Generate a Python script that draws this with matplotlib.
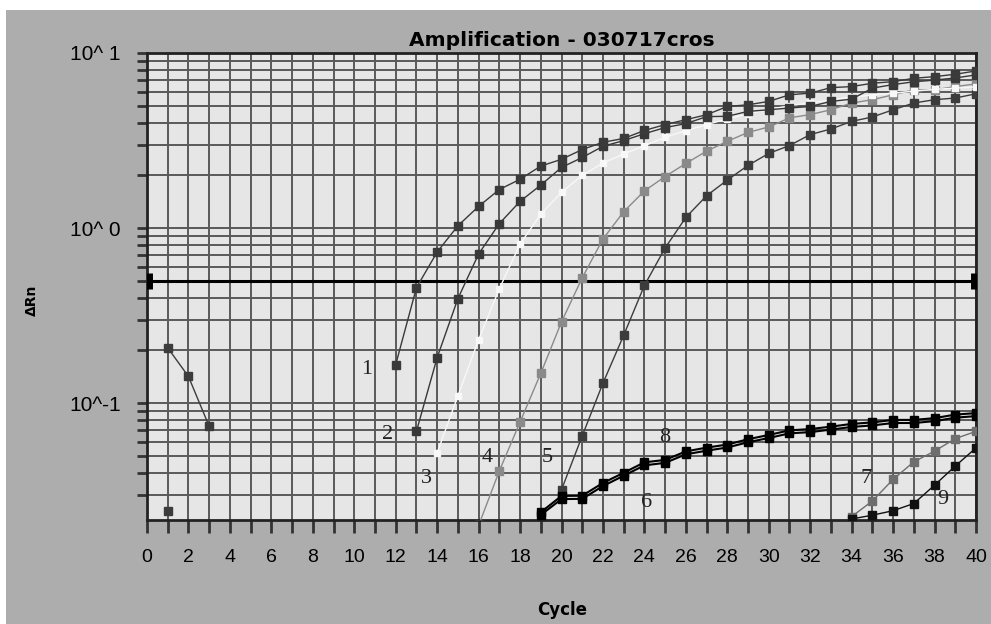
import numpy as np
import matplotlib.pyplot as plt
from matplotlib.patches import Rectangle
from matplotlib.ticker import FixedLocator, NullFormatter

# amplification curves (cycle, delta Rn)
cyc1 = list(range(12, 41))
rn1 = [0.166, 0.456, 0.73, 1.03, 1.33, 1.66, 1.90, 2.26, 2.47, 2.81, 3.09, 3.25, 3.61, 3.90,
       4.16, 4.44, 4.95, 5.06, 5.29, 5.77, 5.90, 6.34, 6.43, 6.72, 6.86, 7.17, 7.33, 7.56, 7.9]

cyc2 = list(range(13, 41))
rn2 = [0.069, 0.182, 0.395, 0.711, 1.06, 1.42, 1.76, 2.22, 2.53, 2.93, 3.16, 3.46, 3.75, 3.95,
       4.33, 4.35, 4.64, 4.74, 4.85, 4.95, 5.29, 5.45, 6.3, 6.6, 6.85, 7.0, 7.2, 7.5]

cyc3 = list(range(14, 41))
rn3 = [0.052, 0.11, 0.23, 0.45, 0.81, 1.2, 1.6, 2.0, 2.35, 2.65, 2.95, 3.3, 3.6, 3.9,
       4.2, 4.5, 4.75, 5.0, 5.2, 5.4, 5.6, 5.75, 5.9, 6.05, 6.2, 6.3, 6.4]

cyc4 = list(range(16, 41))
rn4 = [0.020, 0.041, 0.078, 0.148, 0.291, 0.52, 0.866, 1.24, 1.63, 1.97, 2.34, 2.75, 3.13,
       3.52, 3.78, 4.26, 4.45, 4.74, 5.18, 5.41, 5.77, 6.16, 6.16, 6.43, 6.66]

cyc5 = list(range(20, 41))
rn5 = [0.032, 0.065, 0.13, 0.244, 0.47, 0.77, 1.15, 1.53, 1.88, 2.28, 2.67, 2.96, 3.42, 3.68,
       4.07, 4.31, 4.74, 5.18, 5.41, 5.53, 5.85]

cyc6 = list(range(19, 41))
rn6 = [0.0230, 0.0283, 0.0284, 0.0336, 0.0385, 0.0441, 0.0456, 0.0510, 0.0535, 0.0558, 0.0598,
       0.0632, 0.0672, 0.0683, 0.0706, 0.0731, 0.0746, 0.0770, 0.0770, 0.0789, 0.0826, 0.0843]
cyc8 = list(range(19, 41))
rn8 = [0.0238, 0.0295, 0.0296, 0.0350, 0.0400, 0.0459, 0.0474, 0.0530, 0.0557, 0.0580, 0.0622,
       0.0658, 0.0699, 0.0711, 0.0734, 0.0761, 0.0776, 0.0802, 0.0802, 0.0821, 0.0860, 0.0877]

cyc7 = list(range(34, 41))
rn7 = [0.0225, 0.0276, 0.0367, 0.0462, 0.0532, 0.0627, 0.069]

cyc9 = list(range(34, 41))
rn9 = [0.0218, 0.0229, 0.0243, 0.0267, 0.034, 0.0437, 0.0555]

cyc0 = [1, 2, 3]
rn0 = [0.207, 0.142, 0.0737]
cyc_pt = [1]
rn_pt = [0.0243]

threshold = 0.5

# curve labels: text, cycle, delta Rn
lab_txt = ['1', '2', '3', '4', '5', '6', '7', '8', '9']
lab_x = [10.6, 11.6, 13.5, 16.4, 19.3, 24.1, 34.7, 25.0, 38.4]
lab_y = [0.155, 0.066, 0.037, 0.049, 0.049, 0.027, 0.037, 0.064, 0.028]

fig = plt.figure(figsize=(9.91, 6.24), dpi=100, facecolor='white')
fig.patches.append(Rectangle((6 / 991, 0), 1, (624 - 10) / 624, transform=fig.transFigure,
                             facecolor='#adadad', edgecolor='none', zorder=-10))
ax = fig.add_axes([147 / 991, (624 - 520) / 624, (976 - 147) / 991, (520 - 53) / 624])
ax.set_facecolor('#e6e6e6')
ax.set_yscale('log')
ax.set_xlim(0, 40)
ax.set_ylim(0.0215, 10)

# grid
ax.xaxis.set_major_locator(FixedLocator(range(0, 41, 2)))
ax.xaxis.set_minor_locator(FixedLocator(range(1, 40, 2)))
ax.grid(True, which='both', axis='both', color='#5a5a5a', lw=1.4, zorder=0)
ax.set_axisbelow(True)

ax.set_xticklabels([str(v) for v in range(0, 41, 2)], fontsize=14, family='Liberation Sans')
ax.tick_params(axis='x', which='both', direction='out', length=9, width=2, color='#333333', pad=12)
ax.tick_params(axis='y', which='both', direction='out', length=7, width=2, color='#333333', pad=12)
ax.yaxis.set_major_locator(FixedLocator([0.1, 1, 10]))
ax.yaxis.set_minor_locator(FixedLocator([m * d for d in [0.01, 0.1, 1] for m in range(2, 10)]))
ax.yaxis.set_minor_formatter(NullFormatter())
ax.set_yticklabels(['10^-1', '10^ 0', '10^ 1'], fontsize=15, family='Liberation Sans')
for s in ax.spines.values():
    s.set_color('#222222')
    s.set_linewidth(2)

# threshold
ax.axhline(threshold, color='black', lw=2.2, zorder=3)
ax.plot([0.12, 39.88], [threshold, threshold], '|', color='black', ms=11, mew=5, zorder=4)

ms = 5.5
ax.plot(cyc0, rn0, '-s', color='#3c3c3c', ms=ms, lw=1, zorder=5)
ax.plot(cyc_pt, rn_pt, 's', color='#3c3c3c', ms=ms, zorder=5)
ax.plot(cyc5, rn5, '-s', color='#3c3c3c', ms=ms, lw=1, zorder=5)
ax.plot(cyc4, rn4, '-s', color='#8a8a8a', ms=ms, lw=1, zorder=5)
ax.plot(cyc3, rn3, '-s', color='#f8f8f8', ms=4.5, lw=1, zorder=5)
ax.plot(cyc2, rn2, '-s', color='#383838', ms=ms, lw=1, zorder=6)
ax.plot(cyc1, rn1, '-s', color='#3a3a3a', ms=ms, lw=1, zorder=6)
ax.plot(cyc7, rn7, '-s', color='#6e6e6e', ms=ms, lw=1, zorder=5)
ax.plot(cyc9, rn9, '-s', color='#111111', ms=ms, lw=1, zorder=5)
ax.plot(cyc6, rn6, '-s', color='black', ms=ms, lw=1.5, zorder=6)
ax.plot(cyc8, rn8, '-s', color='black', ms=ms, lw=1.5, zorder=6)

for t, x, y in zip(lab_txt, lab_x, lab_y):
    ax.text(x, y, t, fontsize=16, family='Liberation Serif', color='#222222',
            ha='center', va='center', zorder=7)

ax.set_title('Amplification - 030717cros', fontsize=14.5, fontweight='bold', pad=5)
fig.text(32 / 991, 1 - 300 / 624, 'ΔRn', rotation=90, fontsize=10, fontweight='bold',
         ha='center', va='center')
fig.text(562 / 991, 1 - 610 / 624, 'Cycle', fontsize=12, fontweight='bold',
         ha='center', va='center')

fig.savefig('out.png', dpi=100, facecolor=fig.get_facecolor())
